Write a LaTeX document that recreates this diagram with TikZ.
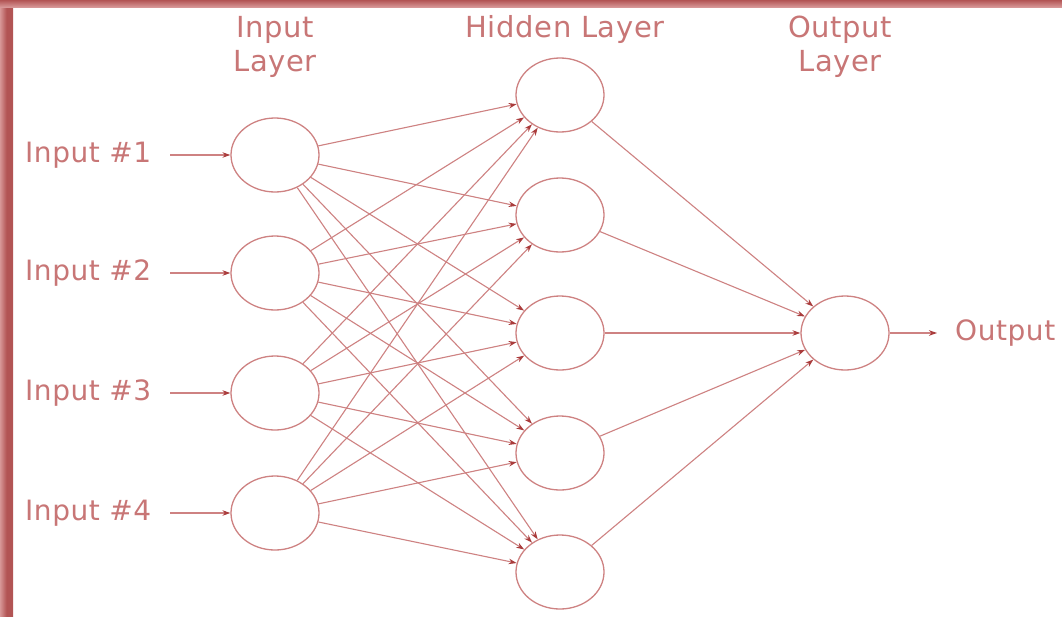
\documentclass[tikz,border=0pt]{standalone}
\usepackage{fontspec}
\setmainfont{DejaVu Sans}[LetterSpace=2]
\usetikzlibrary{arrows.meta,shapes.geometric}
\definecolor{ln}{RGB}{206,130,130}
\definecolor{tx}{RGB}{200,118,118}
\definecolor{tip}{RGB}{170,60,60}
\definecolor{frm}{RGB}{178,84,84}
\definecolor{frml}{RGB}{215,150,150}
\tikzset{
  neuron/.style={ellipse,draw=ln,line width=1.3pt,minimum width=88pt,minimum height=74pt,inner sep=0pt},
  conn/.style={draw=ln,line width=1.1pt,-{Stealth[length=8pt,width=5.5pt,color=tip]}},
  lbl/.style={text=tx,font=\fontsize{28}{30}\selectfont,inner sep=0pt},
  hdr/.style={text=tx,font=\fontsize{29}{34}\selectfont,align=center,inner sep=0pt}
}
\begin{document}
\begin{tikzpicture}[x=1pt,y=-1pt]
\useasboundingbox (0,0) rectangle (1062,616);
\fill[white] (0,0) rectangle (1062,616);
% frame
\shade[left color=frml,right color=frm,middle color=frm] (0,0) rectangle (13,616);
\shade[top color=frm,bottom color=frml] (0,0) rectangle (1062,7);
% headers
\node[hdr] (hin) at (275,47) {Input\\Layer};
\node[hdr] (hhid) at (565,29) {Hidden Layer};
\node[hdr] (hout) at (840,47) {Output\\Layer};
% input nodes
\foreach \i/\y in {1/155,2/273,3/393,4/513}{
  \node[neuron] (i\i) at (275,\y) {};
  \node[lbl,anchor=west] (l\i) at (25,\y) {Input \#\i};
  \coordinate (s\i) at (170,\y);
  \draw[conn] (s\i) -- (i\i);
}
% hidden nodes
\foreach \j/\y in {1/95,2/215,3/333,4/453,5/572}{
  \node[neuron] (h\j) at (560,\y) {};
}
% output node
\node[neuron] (o) at (845,333) {};
\node[lbl,anchor=west] (ol) at (955,333) {Output};
\coordinate (oe) at (937,333);
\draw[conn] (o) -- (oe);
% connections
\foreach \i in {1,...,4}{
  \foreach \j in {1,...,5}{
    \draw[conn] (i\i) -- (h\j);
  }
}
\foreach \j in {1,...,5}{
  \draw[conn] (h\j) -- (o);
}
\end{tikzpicture}
\end{document}
